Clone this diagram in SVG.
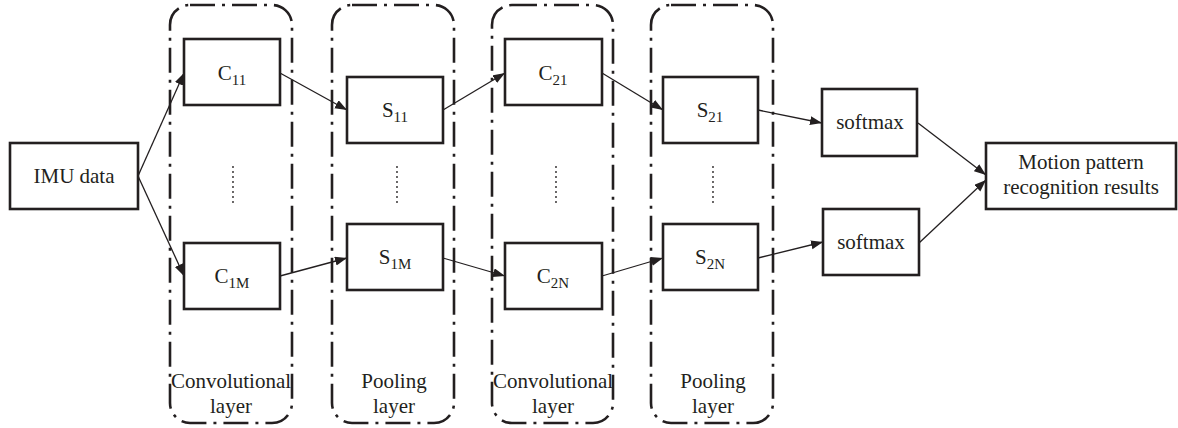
<svg xmlns="http://www.w3.org/2000/svg" width="1178" height="428" viewBox="0 0 1178 428">
<style>
.frame{fill:none;stroke:#231f20;stroke-width:2.6;stroke-dasharray:25 7 3 7}
.box{fill:#fff;stroke:#231f20;stroke-width:2.6}
.t{font-family:"Liberation Serif","Times New Roman",serif;font-size:21px;fill:#231f20;text-anchor:middle}
.sub{font-size:15px}
.edge{stroke:#231f20;stroke-width:1.3;fill:none;marker-end:url(#ah)}
.dots{stroke:#231f20;stroke-width:1.8;stroke-linecap:round;stroke-dasharray:0 5}
</style>
<defs>
<marker id="ah" markerUnits="userSpaceOnUse" markerWidth="13" markerHeight="10" refX="12" refY="4.5" orient="auto">
<path d="M0,0 L12,4.5 L0,9 z" fill="#231f20"/>
</marker>
</defs>
<g id="layers">
<g id="layer-conv1">
<rect class="frame" x="170" y="5" width="122" height="418" rx="20"/>
<line class="dots" x1="233" y1="167" x2="233" y2="204"/>
<text class="t" x="231" y="388">Convolutional</text>
<text class="t" x="231" y="413">layer</text>
</g>
<g id="layer-pool1">
<rect class="frame" x="332" y="5" width="122" height="418" rx="20"/>
<line class="dots" x1="397" y1="167" x2="397" y2="204"/>
<text class="t" x="394" y="388">Pooling</text>
<text class="t" x="394" y="413">layer</text>
</g>
<g id="layer-conv2">
<rect class="frame" x="492" y="5" width="121" height="418" rx="20"/>
<line class="dots" x1="556" y1="167" x2="556" y2="204"/>
<text class="t" x="553" y="388">Convolutional</text>
<text class="t" x="553" y="413">layer</text>
</g>
<g id="layer-pool2">
<rect class="frame" x="651" y="5" width="122" height="418" rx="20"/>
<line class="dots" x1="713" y1="167" x2="713" y2="204"/>
<text class="t" x="713" y="388">Pooling</text>
<text class="t" x="713" y="413">layer</text>
</g>
</g>
<g id="connectors">
<line class="edge" x1="138" y1="176" x2="184" y2="73"/>
<line class="edge" x1="138" y1="176" x2="184" y2="276"/>
<line class="edge" x1="280" y1="73" x2="347" y2="110"/>
<line class="edge" x1="280" y1="276" x2="347" y2="258"/>
<line class="edge" x1="443" y1="110" x2="505" y2="73"/>
<line class="edge" x1="443" y1="258" x2="505" y2="276"/>
<line class="edge" x1="602" y1="73" x2="663" y2="110"/>
<line class="edge" x1="602" y1="276" x2="663" y2="258"/>
<line class="edge" x1="758" y1="110" x2="822" y2="123"/>
<line class="edge" x1="758" y1="258" x2="823" y2="242"/>
<line class="edge" x1="918" y1="123" x2="986" y2="175"/>
<line class="edge" x1="919" y1="243" x2="986" y2="180"/>
</g>
<g id="imu">
<rect class="box" x="10" y="143" width="128" height="66"/>
<text class="t" x="74" y="183">IMU data</text>
</g>
<g id="c11">
<rect class="box" x="184" y="39" width="96" height="66"/>
<text class="t" x="232" y="80">C<tspan class="sub" dy="5">11</tspan></text>
</g>
<g id="c1m">
<rect class="box" x="184" y="243" width="96" height="66"/>
<text class="t" x="232" y="283">C<tspan class="sub" dy="5">1M</tspan></text>
</g>
<g id="s11">
<rect class="box" x="347" y="77" width="96" height="66"/>
<text class="t" x="395" y="117">S<tspan class="sub" dy="5">11</tspan></text>
</g>
<g id="s1m">
<rect class="box" x="347" y="224" width="96" height="66"/>
<text class="t" x="395" y="264">S<tspan class="sub" dy="5">1M</tspan></text>
</g>
<g id="c21">
<rect class="box" x="505" y="39" width="97" height="66"/>
<text class="t" x="553" y="80">C<tspan class="sub" dy="5">21</tspan></text>
</g>
<g id="c2n">
<rect class="box" x="505" y="243" width="97" height="66"/>
<text class="t" x="553" y="283">C<tspan class="sub" dy="5">2N</tspan></text>
</g>
<g id="s21">
<rect class="box" x="663" y="77" width="95" height="66"/>
<text class="t" x="710" y="117">S<tspan class="sub" dy="5">21</tspan></text>
</g>
<g id="s2n">
<rect class="box" x="663" y="224" width="95" height="66"/>
<text class="t" x="710" y="264">S<tspan class="sub" dy="5">2N</tspan></text>
</g>
<g id="softmax1">
<rect class="box" x="822" y="89" width="95" height="67"/>
<text class="t" x="870" y="129">softmax</text>
</g>
<g id="softmax2">
<rect class="box" x="823" y="209" width="96" height="66"/>
<text class="t" x="871" y="249">softmax</text>
</g>
<g id="result">
<rect class="box" x="986" y="143" width="190" height="66"/>
<text class="t" x="1081" y="169">Motion pattern</text>
<text class="t" x="1081" y="194">recognition results</text>
</g>
</svg>
